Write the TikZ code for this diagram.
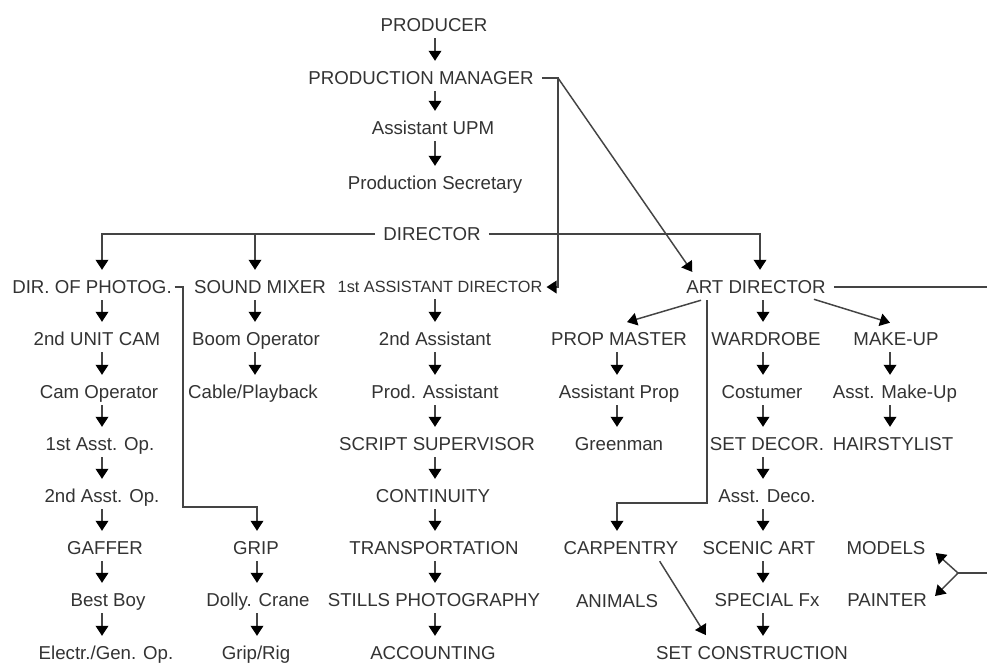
\documentclass[tikz,border=0pt]{standalone}
\usepackage{fontspec}
\setmainfont{Liberation Sans}
\usetikzlibrary{arrows.meta}
\definecolor{txt}{HTML}{333333}
\definecolor{lnc}{HTML}{444444}
\begin{document}
\begin{tikzpicture}[x=0.75pt,y=-0.75pt,
 lbl/.style={font=\fontsize{14}{16}\selectfont,text=txt,inner sep=0pt,text height=10pt,text depth=0pt},
 lsmall/.style={lbl,font=\fontsize{12.2}{14}\selectfont,text height=8.8pt},
 conn/.style={draw=lnc,line width=1.1pt},
 tip/.style={-{Triangle[width=9.5pt,length=7.5pt,color=black]}},
 colarr/.style={conn,tip,shorten <=4.7pt,shorten >=7.7pt}]
\useasboundingbox (0,0) rectangle (987,662);
\fill[white] (0,0) rectangle (987,662);
% column / routing coordinates
\coordinate (cT) at (435,0);
\coordinate (cL) at (102,0);
\coordinate (cS) at (255,0);
\coordinate (cG) at (257,0);
\coordinate (cA) at (435,0);
\coordinate (cP) at (617,0);
\coordinate (cW) at (763,0);
\coordinate (cM) at (890,0);
\coordinate (cPM) at (558,0);
\coordinate (cArt) at (760,0);
\coordinate (cV) at (707,0);
\coordinate (hC) at (707,503);
\coordinate (cD) at (183,0);
\coordinate (hG) at (183,507);
\coordinate (rEdge) at (987,0);
\coordinate (fk) at (958,573);
\coordinate (fr) at (987,573);
% top column
\node[lbl] (prod) at (434,25) {PRODUCER};
\node[lbl] (pm) at (421,78) {PRODUCTION MANAGER};
\node[lbl] (aupm) at (433,128) {Assistant UPM};
\node[lbl] (ps) at (435,183) {Production Secretary};
\node[lbl] (dir) at (432,234) {DIRECTOR};
% row 2
\node[lbl] (dp) at (92,287) {DIR. OF PHOTOG.};
\node[lbl] (sm) at (260,287) {SOUND MIXER};
\node[lsmall] (ad1) at (440,287) {1st ASSISTANT DIRECTOR};
\node[lbl] (art) at (756,287) {ART DIRECTOR};
% row 3
\node[lbl] (ucam) at (97,339) {2nd UNIT CAM};
\node[lbl] (boom) at (256,339) {Boom Operator};
\node[lbl] (as2) at (435,339) {2nd Assistant};
\node[lbl] (prop) at (619,339) {PROP MASTER};
\node[lbl] (ward) at (766,339) {WARDROBE};
\node[lbl] (mk) at (896,339) {MAKE-UP};
% row 4
\node[lbl] (camop) at (99,392) {Cam Operator};
\node[lbl] (cable) at (253,392) {Cable/Playback};
\node[lbl] (pa) at (435,392) {Prod. Assistant};
\node[lbl] (aprop) at (619,392) {Assistant Prop};
\node[lbl] (cost) at (762,392) {Costumer};
\node[lbl] (amk) at (895,392) {Asst. Make-Up};
% row 5
\node[lbl] (op1) at (100,444) {1st Asst. Op.};
\node[lbl] (script) at (437,444) {SCRIPT SUPERVISOR};
\node[lbl] (green) at (619,444) {Greenman};
\node[lbl] (sdec) at (767,444) {SET DECOR.};
\node[lbl] (hair) at (893,444) {HAIRSTYLIST};
% row 6
\node[lbl] (op2) at (102,496) {2nd Asst. Op.};
\node[lbl] (cont) at (433,496) {CONTINUITY};
\node[lbl] (adeco) at (767,496) {Asst. Deco.};
% row 7
\node[lbl] (gaf) at (105,548) {GAFFER};
\node[lbl] (grip) at (256,548) {GRIP};
\node[lbl] (trans) at (434,548) {TRANSPORTATION};
\node[lbl] (carp) at (621,548) {CARPENTRY};
\node[lbl] (scen) at (759,548) {SCENIC ART};
\node[lbl] (models) at (886,548) {MODELS};
% row 8
\node[lbl] (bb) at (108,600) {Best Boy};
\node[lbl] (dolly) at (258,600) {Dolly. Crane};
\node[lbl] (stills) at (434,600) {STILLS PHOTOGRAPHY};
\node[lbl] (anim) at (617,601) {ANIMALS};
\node[lbl] (sfx) at (767,600) {SPECIAL Fx};
\node[lbl] (paint) at (887,600) {PAINTER};
% row 9
\node[lbl] (elec) at (106,653) {Electr./Gen. Op.};
\node[lbl] (griprig) at (256,653) {Grip/Rig};
\node[lbl] (acc) at (433,653) {ACCOUNTING};
\node[lbl] (setc) at (752,653) {SET CONSTRUCTION};
% top column arrows
\draw[colarr] (prod.south -| cT) -- (pm.north -| cT);
\draw[colarr] (pm.south -| cT) -- (aupm.north -| cT);
\draw[colarr] (aupm.south -| cT) -- (ps.north -| cT);
% production manager branches
\draw[conn,tip,shorten >=3pt] ([xshift=6pt]pm.east) -- (pm.east -| cPM) |- (ad1.east);
\draw[conn,tip,shorten >=5pt] (pm.east -| cPM) -- ([xshift=7.5pt,yshift=2pt]art.north west);
% director branches
\draw[conn,tip,shorten >=7.7pt] ([xshift=-6pt]dir.west) -| (dp.north -| cL);
\draw[conn,tip,shorten >=7.7pt] (dir.west -| cS) -- (sm.north -| cS);
\draw[conn,tip,shorten >=7.7pt] ([xshift=6pt]dir.east) -| (art.north -| cArt);
% photography column
\draw[colarr] (dp.south -| cL) -- (ucam.north -| cL);
\draw[colarr] (ucam.south -| cL) -- (camop.north -| cL);
\draw[colarr] (camop.south -| cL) -- (op1.north -| cL);
\draw[colarr] (op1.south -| cL) -- (op2.north -| cL);
\draw[colarr] (op2.south -| cL) -- (gaf.north -| cL);
\draw[colarr] (gaf.south -| cL) -- (bb.north -| cL);
\draw[colarr] (bb.south -| cL) -- (elec.north -| cL);
\draw[conn,tip,shorten >=7.7pt] ([xshift=2pt]dp.east) -- (dp.east -| cD) -- (hG) -| (grip.north -| cG);
% sound / grip column
\draw[colarr] (sm.south -| cS) -- (boom.north -| cS);
\draw[colarr] (boom.south -| cS) -- (cable.north -| cS);
\draw[colarr] (grip.south -| cG) -- (dolly.north -| cG);
\draw[colarr] (dolly.south -| cG) -- (griprig.north -| cG);
% assistant director column
\draw[colarr] (ad1.south -| cA) -- (as2.north -| cA);
\draw[colarr] (as2.south -| cA) -- (pa.north -| cA);
\draw[colarr] (pa.south -| cA) -- (script.north -| cA);
\draw[colarr] (script.south -| cA) -- (cont.north -| cA);
\draw[colarr] (cont.south -| cA) -- (trans.north -| cA);
\draw[colarr] (trans.south -| cA) -- (stills.north -| cA);
\draw[colarr] (stills.south -| cA) -- (acc.north -| cA);
% art director branches
\draw[conn] ([xshift=6pt]art.east) -- (art.east -| rEdge);
\draw[conn,tip] ([xshift=11.25pt,yshift=-4.7pt]art.south west) -- ([xshift=6pt,yshift=7.5pt]prop.north);
\draw[colarr] (art.south -| cW) -- (ward.north -| cW);
\draw[conn,tip] ([xshift=-9pt,yshift=-4pt]art.south east) -- ([xshift=-4.5pt,yshift=7pt]mk.north);
\draw[conn,tip,shorten <=4.7pt,shorten >=7.7pt] (art.south -| cV) -- (hC) -| (carp.north -| cP);
% prop column
\draw[colarr] (prop.south -| cP) -- (aprop.north -| cP);
\draw[colarr] (aprop.south -| cP) -- (green.north -| cP);
% wardrobe column
\draw[colarr] (ward.south -| cW) -- (cost.north -| cW);
\draw[colarr] (cost.south -| cW) -- (sdec.north -| cW);
\draw[colarr] (sdec.south -| cW) -- (adeco.north -| cW);
\draw[colarr] (adeco.south -| cW) -- (scen.north -| cW);
\draw[colarr] (scen.south -| cW) -- (sfx.north -| cW);
\draw[colarr] (sfx.south -| cW) -- (setc.north -| cW);
% make-up column
\draw[colarr] (mk.south -| cM) -- (amk.north -| cM);
\draw[colarr] (amk.south -| cM) -- (hair.north -| cM);
% carpentry to set construction
\draw[conn,tip] ([xshift=-14.25pt,yshift=-4.7pt]carp.south east) -- ([xshift=37.5pt,yshift=8.25pt]setc.north west);
% models / painter fork
\draw[conn] (fr) -- (fk);
\draw[conn,tip] (fk) -- ([xshift=7.5pt,yshift=-3.75pt]models.east);
\draw[conn,tip] (fk) -- ([xshift=6pt,yshift=3pt]paint.east);
\end{tikzpicture}
\end{document}
